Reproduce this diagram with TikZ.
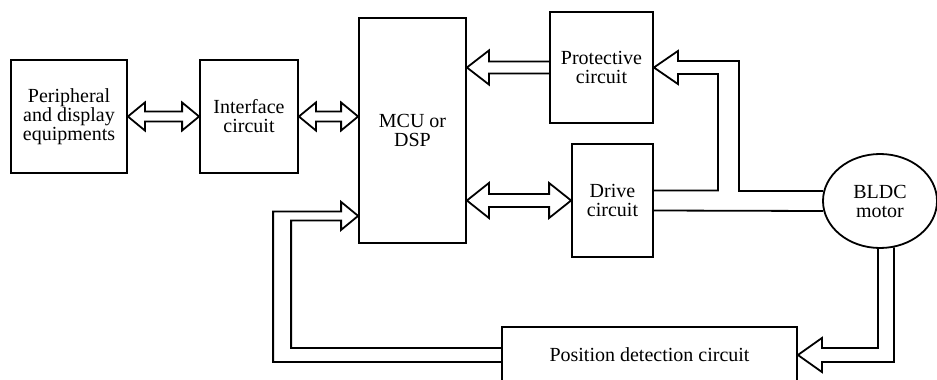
\documentclass[tikz,border=0pt]{standalone}
\usepackage{fontspec}
\setmainfont{Liberation Serif}
\usetikzlibrary{calc,shapes.geometric}

\begin{document}
\begin{tikzpicture}[x=0.5pt,y=-0.5pt,font=\fontsize{10}{9.5}\selectfont,
  box/.style={draw,line width=0.9pt,align=center,inner sep=0pt},
  fat/.style={draw,line width=0.9pt,line join=miter}]
\useasboundingbox (0,0) rectangle (937,380);
\clip (0,0) rectangle (937,380);
\node[box,minimum width=58pt,minimum height=56.5pt] (per) at (69,116.5) {Peripheral\\and display\\equipments};
\node[box,minimum width=49pt,minimum height=56.5pt] (intf) at (249,116.5) {Interface\\circuit};
\node[box,minimum width=53.5pt,minimum height=112.5pt] (mcu) at (412.5,130.5) {MCU or\\DSP};
\node[box,minimum width=51.5pt,minimum height=55.5pt] (prot) at (601.5,67.5) {Protective\\circuit};
\node[box,minimum width=40.5pt,minimum height=56.5pt] (drive) at (612.5,200.5) {Drive\\circuit};
\node[box,ellipse,minimum width=57pt,minimum height=47pt] (motor) at (880,201) {BLDC\\motor};
\node[box,minimum width=147.5pt,minimum height=28pt] (pos) at (649.5,355) {Position detection circuit};
% peripheral <-> interface
\draw[fat] (per.east) -- ++(17,-14) -- ++(0,9) -- ($(intf.west)+(-17,-5)$) -- ++(0,-9) -- (intf.west) -- ++(-17,14) -- ++(0,-9) -- ($(per.east)+(17,5)$) -- ++(0,9) -- cycle;
% interface <-> MCU
\draw[fat] (intf.east) -- ++(17,-14) -- ++(0,9) -- ($(intf.east -| mcu.west)+(-17,-5)$) -- ++(0,-9) -- (intf.east -| mcu.west) -- ++(-17,14) -- ++(0,-9) -- ($(intf.east)+(17,5)$) -- ++(0,9) -- cycle;
% protective -> MCU
\draw[fat] ($(prot.west)+(0,-6)$) -- ($(prot.west -| mcu.east)+(22,-6)$) -- ++(0,-11) -- (prot.west -| mcu.east) -- ++(22,17) -- ++(0,-11) -- ($(prot.west)+(0,6)$);
% drive <-> MCU
\draw[fat] (drive.west -| mcu.east) -- ++(22,-17.5) -- ++(0,11) -- ($(drive.west)+(-22,-6.5)$) -- ++(0,-11) -- (drive.west) -- ++(-22,17.5) -- ++(0,-11) -- ($(drive.west -| mcu.east)+(22,6.5)$) -- ++(0,11) -- cycle;
% motor -> protective
\draw[fat] ($(motor.west)+(1,-10)$) -| ($(prot.east)+(85,-6.5)$) -- ($(prot.east)+(24,-6.5)$) -- ++(0,-10) -- (prot.east) -- ++(24,16.5) -- ++(0,-10) -| ($(drive.east)+(64,-10)$) -- ($(drive.east)+(0,-10)$);
% drive -- motor
\draw[fat] ($(drive.east)+(0,10)$) -- ($(motor.west)+(1,10)$);
% motor -> position detection
\draw[fat] ($(motor.south)+(-2,0)$) |- ($(pos.east)+(24,-7)$) -- ++(0,-10) -- (pos.east) -- ++(24,17) -- ++(0,-10) -| ($(motor.south)+(14,-1.5)$);
% position detection -> MCU
\draw[fat] ($(pos.west)+(0,-7)$) -| ($(mcu.south west)+(-67,-23.5)$) -- ++(50,0) -- ++(0,9.5) -- ($(mcu.south west)+(0,-28)$) -- ++(-17,-14) -- ++(0,9.5) -- ++(-68,0) |- ($(pos.west)+(0,7)$);
\end{tikzpicture}
\end{document}
